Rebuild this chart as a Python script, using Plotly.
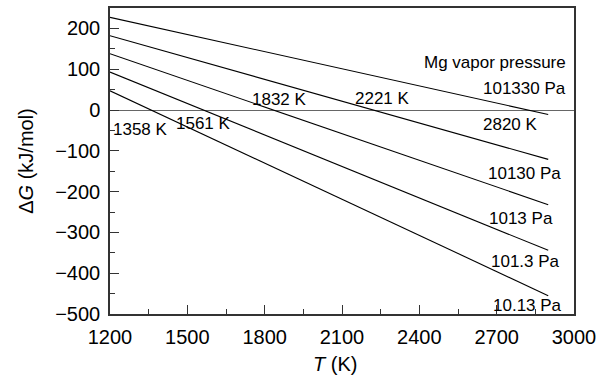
import plotly.graph_objects as go

# Temperature span of each line (K)
temps = [1200, 2900]

# Gibbs free-energy change (kJ/mol) at the two temperatures, per Mg vapor pressure
dg_101330 = [227, -11]
dg_10130 = [182, -121]
dg_1013 = [138, -232]
dg_101_3 = [93, -344]
dg_10_13 = [47, -455]

series = [dg_101330, dg_10130, dg_1013, dg_101_3, dg_10_13]

# Pressure labels at the right end of each line
pressure_labels = ["101330 Pa", "10130 Pa", "1013 Pa", "101.3 Pa", "10.13 Pa"]
pressure_label_pos = [(2977, 52), (2958, -155), (2927, -266), (2954, -371), (2962, -478)]

# Temperatures where each line crosses ΔG = 0
crossing_labels = ["2820 K", "2221 K", "1832 K", "1561 K", "1358 K"]
crossing_label_pos = [(2754, -36), (2257, 27), (1858, 25), (1561, -33), (1320, -48)]

x_ticks = [1200, 1500, 1800, 2100, 2400, 2700, 3000]
y_ticks = [-500, -400, -300, -200, -100, 0, 100, 200]

FONT = "Liberation Sans, Arial, sans-serif"

fig = go.Figure()
for vals in series:
    fig.add_trace(go.Scatter(
        x=temps, y=vals, mode="lines",
        line=dict(color="black", width=1.1),
        showlegend=False, hoverinfo="skip",
    ))

annotations = [dict(
    x=2977, y=117, text="Mg vapor pressure", xanchor="right", yanchor="middle",
    showarrow=False, font=dict(size=17, color="black", family=FONT),
)]
for txt, (x, y) in zip(pressure_labels, pressure_label_pos):
    annotations.append(dict(
        x=x, y=y, text=txt, xanchor="right", yanchor="middle", showarrow=False,
        font=dict(size=17, color="black", family=FONT),
    ))
for txt, (x, y) in zip(crossing_labels, crossing_label_pos):
    annotations.append(dict(
        x=x, y=y, text=txt, xanchor="center", yanchor="middle", showarrow=False,
        font=dict(size=17, color="black", family=FONT),
    ))

# x-axis title, set slightly left of the plot centre
annotations.append(dict(
    x=0.485, y=-0.163, xref="paper", yref="paper", text="<i>T</i> (K)",
    xanchor="center", yanchor="middle", showarrow=False,
    font=dict(size=20, color="black", family=FONT),
))

axis_common = dict(
    showline=True, linecolor="#333333", linewidth=1.5, mirror=True,
    ticks="inside", ticklen=9, tickwidth=1.2, tickcolor="#333333",
    showgrid=False, tickfont=dict(size=20, color="black", family=FONT),
)

fig.update_layout(
    width=610, height=380,
    margin=dict(l=110, r=36, t=6, b=66),
    paper_bgcolor="white", plot_bgcolor="white",
    font=dict(family=FONT, color="black"),
    annotations=annotations,
    xaxis=dict(
        range=[1200, 3000], tickvals=x_ticks, zeroline=False,
        minor=dict(ticks="inside", ticklen=5, dtick=150, tickcolor="#333333", tickwidth=1.2),
        ticklabelstandoff=4,
        **axis_common,
    ),
    yaxis=dict(
        range=[-500, 250], tickvals=y_ticks,
        zeroline=True, zerolinecolor="#666666", zerolinewidth=1.2,
        minor=dict(ticks="inside", ticklen=5, dtick=50, tickcolor="#333333", tickwidth=1.2),
        title=dict(text="Δ<i>G</i> (kJ/mol)", font=dict(size=20, family=FONT), standoff=16),
        ticklabelstandoff=4,
        **axis_common,
    ),
)

fig.write_html("out.html")
